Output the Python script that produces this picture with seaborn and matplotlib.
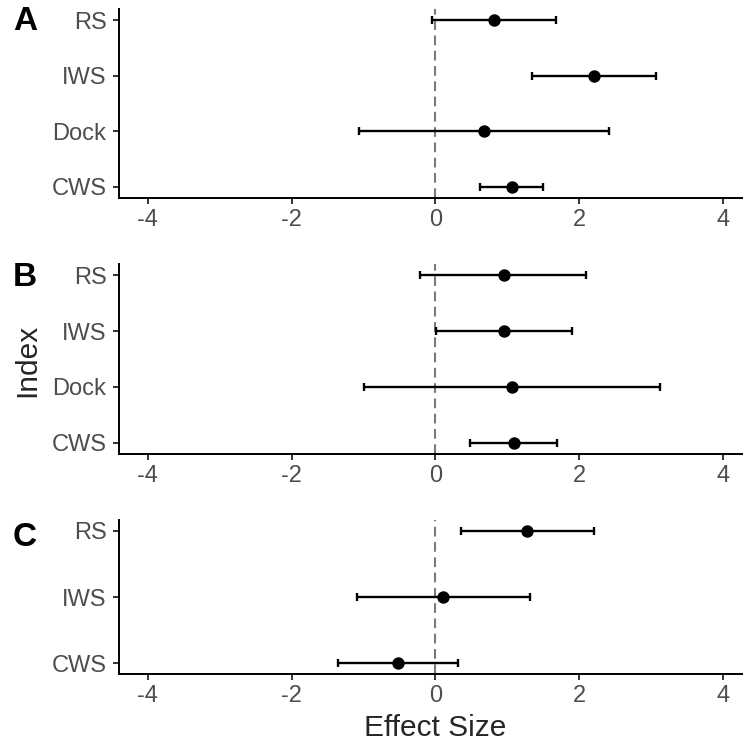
import numpy as np
import pandas as pd
import matplotlib
matplotlib.use("Agg")
import matplotlib.pyplot as plt
import seaborn as sns

sns.set_theme(style="ticks")
plt.rcParams['font.family'] = ['Liberation Sans', 'DejaVu Sans']
plt.rcParams['lines.scale_dashes'] = False

# ---- data ----
panel_labels = ["A", "B", "C"]

cats_A = ["CWS", "Dock", "IWS", "RS"]
est_A = [1.07, 0.67, 2.21, 0.82]
lo_A = [0.62, -1.06, 1.35, -0.05]
hi_A = [1.49, 2.41, 3.07, 1.68]

cats_B = ["CWS", "Dock", "IWS", "RS"]
est_B = [1.09, 1.07, 0.96, 0.95]
lo_B = [0.48, -0.99, 0.01, -0.22]
hi_B = [1.69, 3.13, 1.90, 2.09]

cats_C = ["CWS", "IWS", "RS"]
est_C = [-0.52, 0.11, 1.27]
lo_C = [-1.36, -1.09, 0.35]
hi_C = [0.32, 1.31, 2.20]

x_ticks = [-4, -2, 0, 2, 4]
x_title = "Effect Size"
y_title = "Index"

panels = [
    (cats_A, est_A, lo_A, hi_A),
    (cats_B, est_B, lo_B, hi_B),
    (cats_C, est_C, lo_C, hi_C),
]

# ---- layout (pixels) ----
W, H = 743, 748
left_px, right_px = 119, 751.8
boxes = [(9, 198, 0.2), (264, 454, 0.2), (520, 674, 0.16)]  # top, bottom, y padding
letter_y = [22, 278, 537]

fig = plt.figure(figsize=(W / 100, H / 100), dpi=100)
tick_col = "#4D4D4D"

for (cats, est, lo, hi), (top, bot, pad), lab, ly in zip(panels, boxes, panel_labels, letter_y):
    ax = fig.add_axes([left_px / W, 1 - bot / H, (right_px - left_px) / W, (bot - top) / H])
    df = pd.DataFrame({"cat": cats, "est": est, "lo": lo, "hi": hi})
    df["pos"] = np.arange(len(df))
    ax.axvline(0, color="#7a7a7a", linestyle=(0, (7, 4)), lw=1.5, zorder=1)
    ax.errorbar(df["est"], df["pos"],
                xerr=[df["est"] - df["lo"], df["hi"] - df["est"]],
                fmt="none", ecolor="black", elinewidth=1.7, capsize=2.8, capthick=1.7, zorder=2)
    sns.scatterplot(data=df, x="est", y="pos", color="black", s=80, edgecolor="black",
                    linewidth=0, ax=ax, zorder=3, legend=False)
    ax.set_xlim(-4.4, 4.4)
    ax.set_ylim(-pad, len(cats) - 1 + pad)
    ax.set_xticks(x_ticks)
    ax.set_xticklabels([str(t) for t in x_ticks])
    ax.set_yticks(df["pos"])
    ax.set_yticklabels(cats)
    ax.set_xlabel("")
    ax.set_ylabel("")
    for s in ["top", "right"]:
        ax.spines[s].set_visible(False)
    for s in ["left", "bottom"]:
        ax.spines[s].set_linewidth(1.4)
        ax.spines[s].set_color("black")
    ax.tick_params(axis="both", length=4, width=1.4, color="#333333",
                   labelsize=17, labelcolor=tick_col)
    ax.tick_params(axis="y", pad=5)
    ax.tick_params(axis="x", pad=4)
    ax.set_facecolor("white")
    fig.text(25 / W, 1 - ly / H, lab, fontsize=24, fontweight="bold",
             ha="center", va="center", color="black")

fig.text(27 / W, 1 - 360 / H, y_title, rotation=90, fontsize=21.5, ha="center", va="center")
fig.text(435 / W, 1 - 728 / H, x_title, fontsize=21.5, ha="center", va="center")

fig.savefig("out.png", dpi=100, facecolor="white")
